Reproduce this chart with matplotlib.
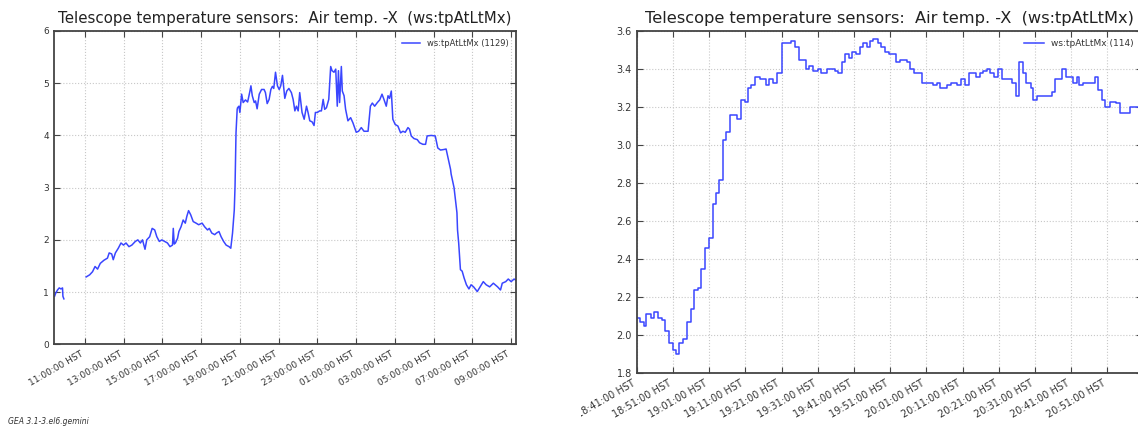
import matplotlib
matplotlib.use("Agg")
import matplotlib.pyplot as plt
from matplotlib.ticker import MultipleLocator, FuncFormatter
from matplotlib.patches import Rectangle
import numpy as np

# left panel: 24 h history, hours since midnight of day 1 (values > 24 = next day)
day_hours = [
    9.43, 9.49, 9.58, 9.67, 9.76, 9.84, 9.86, 9.91,
    11.06, 11.24, 11.39, 11.52, 11.65, 11.79, 11.98, 12.16, 12.25, 12.38, 12.46, 12.57,
    12.72, 12.86, 12.99, 13.12, 13.27, 13.42, 13.60, 13.73, 13.86, 13.97, 14.10, 14.19,
    14.34, 14.47, 14.60, 14.71, 14.84, 14.97, 15.11, 15.26, 15.39, 15.52, 15.56, 15.61,
    15.67, 15.78, 15.85, 15.96, 16.07, 16.18, 16.26, 16.35, 16.46, 16.59, 16.74, 16.87,
    17.05, 17.18, 17.33, 17.42, 17.55, 17.70, 17.79, 17.92, 18.03, 18.16, 18.29, 18.44,
    18.53, 18.62, 18.71, 18.75, 18.80, 18.86, 18.88, 18.95, 19.00, 19.09, 19.17, 19.29,
    19.40, 19.52, 19.57, 19.64, 19.74, 19.81, 19.89, 20.00, 20.12, 20.25, 20.32, 20.41,
    20.51, 20.60, 20.68, 20.75, 20.84, 20.94, 21.03, 21.11, 21.20, 21.32, 21.42, 21.53,
    21.66, 21.75, 21.84, 21.92, 22.01, 22.09, 22.21, 22.32, 22.44, 22.52, 22.61, 22.73,
    22.83, 22.90, 23.00, 23.12, 23.21, 23.30, 23.38, 23.47, 23.59, 23.69, 23.76, 23.86,
    23.95, 24.03, 24.09, 24.15, 24.24, 24.29, 24.38, 24.46, 24.58, 24.72, 24.84, 25.01,
    25.13, 25.27, 25.41, 25.62, 25.74, 25.84, 25.96, 26.10, 26.22, 26.34, 26.44, 26.56,
    26.65, 26.73, 26.82, 26.90, 27.02, 27.16, 27.30, 27.42, 27.54, 27.68, 27.76, 27.85,
    27.99, 28.16, 28.28, 28.45, 28.59, 28.67, 28.88, 29.09, 29.22, 29.36, 29.53, 29.65,
    29.77, 29.88, 29.91, 30.06, 30.21, 30.24, 30.30, 30.39, 30.48, 30.58, 30.70, 30.83,
    30.94, 31.07, 31.26, 31.44, 31.57, 31.72, 31.90, 32.09, 32.31, 32.46, 32.55, 32.73,
    32.86, 33.01, 33.16, 33.29,
]
day_temp = [
    0.92, 0.98, 1.04, 1.08, 1.06, 1.08, 0.92, 0.87,
    1.29, 1.33, 1.39, 1.49, 1.44, 1.55, 1.61, 1.65, 1.75, 1.73, 1.62, 1.75,
    1.84, 1.94, 1.90, 1.94, 1.87, 1.90, 1.97, 2.00, 1.94, 2.00, 1.82, 2.00,
    2.06, 2.22, 2.19, 2.06, 1.97, 2.00, 1.97, 1.94, 1.87, 1.90, 2.22, 1.92,
    1.94, 2.03, 2.16, 2.25, 2.38, 2.32, 2.45, 2.56, 2.48, 2.35, 2.32, 2.29,
    2.32, 2.25, 2.19, 2.22, 2.13, 2.10, 2.13, 2.16, 2.06, 1.97, 1.90, 1.87,
    1.84, 2.13, 2.57, 3.03, 4.05, 4.50, 4.53, 4.56, 4.44, 4.79, 4.63, 4.68,
    4.64, 4.85, 4.95, 4.76, 4.63, 4.66, 4.51, 4.79, 4.88, 4.88, 4.82, 4.61,
    4.69, 4.88, 4.94, 4.90, 5.21, 4.95, 4.88, 4.95, 5.15, 4.71, 4.85, 4.90,
    4.82, 4.69, 4.47, 4.56, 4.47, 4.82, 4.44, 4.31, 4.56, 4.44, 4.28, 4.26,
    4.19, 4.44, 4.44, 4.47, 4.47, 4.69, 4.50, 4.53, 4.69, 5.32, 5.24, 5.21,
    5.27, 4.56, 5.24, 4.63, 5.32, 4.85, 4.76, 4.50, 4.28, 4.34, 4.24, 4.06,
    4.08, 4.15, 4.08, 4.08, 4.56, 4.62, 4.56, 4.63, 4.68, 4.79, 4.69, 4.56,
    4.76, 4.71, 4.85, 4.31, 4.21, 4.18, 4.05, 4.08, 4.06, 4.15, 4.12, 3.99,
    3.94, 3.92, 3.86, 3.83, 3.83, 3.99, 4.00, 3.99, 3.76, 3.72, 3.73, 3.74,
    3.54, 3.35, 3.26, 3.00, 2.52, 2.19, 1.94, 1.43, 1.40, 1.27, 1.14, 1.06,
    1.14, 1.10, 1.01, 1.12, 1.20, 1.14, 1.10, 1.17, 1.10, 1.04, 1.17, 1.20,
    1.25, 1.20, 1.25, 1.22,
]
day_gap_after = 9.91  # no samples between ~09:55 and 11:00

# right panel: last two hours, minutes after 18:41, value held until next change
eve_minutes = [
    0, 1.0, 2.0, 2.7, 3.9, 4.9, 6.0, 7.1, 7.8, 8.9, 9.9, 10.9, 11.8, 12.9, 13.8, 14.9,
    15.8, 16.8, 17.8, 18.8, 19.9, 21.0, 21.9, 22.8, 23.8, 24.8, 25.8, 27.8, 28.8, 30.0,
    30.8, 31.7, 32.8, 34.1, 35.6, 36.6, 37.6, 38.8, 40.0, 42.7, 43.7, 44.8, 46.7, 47.7,
    48.8, 50.0, 50.9, 52.7, 54.7, 55.6, 56.6, 57.6, 58.6, 59.6, 60.6, 61.6, 62.6, 63.7,
    64.4, 65.3, 66.6, 67.6, 68.6, 69.6, 71.6, 72.6, 74.6, 75.5, 76.7, 78.9, 81.9, 82.9,
    83.7, 85.6, 86.8, 88.6, 89.6, 90.7, 91.8, 93.8, 94.8, 95.7, 96.7, 97.7, 98.7, 99.7,
    100.9, 103.7, 104.7, 105.6, 106.8, 107.6, 108.8, 109.6, 110.6, 114.6, 115.5, 117.5,
    118.5, 120.5, 121.5, 122.3, 123.3, 126.6, 127.4, 128.4, 129.4, 130.8, 132.4, 133.4,
    136.3, 140.0,
]
eve_temp = [
    2.09, 2.07, 2.05, 2.11, 2.09, 2.12, 2.09, 2.08, 2.02, 1.96, 1.92, 1.90, 1.96, 1.98, 2.07, 2.14,
    2.24, 2.25, 2.35, 2.46, 2.51, 2.69, 2.75, 2.82, 3.03, 3.07, 3.16, 3.14, 3.24, 3.23,
    3.30, 3.32, 3.36, 3.35, 3.32, 3.35, 3.33, 3.38, 3.54, 3.55, 3.52, 3.45, 3.40, 3.42,
    3.39, 3.40, 3.38, 3.40, 3.39, 3.38, 3.44, 3.48, 3.46, 3.49, 3.48, 3.52, 3.54, 3.52,
    3.55, 3.56, 3.54, 3.52, 3.49, 3.48, 3.44, 3.45, 3.44, 3.40, 3.38, 3.33, 3.32, 3.33,
    3.30, 3.32, 3.33, 3.32, 3.35, 3.32, 3.38, 3.36, 3.38, 3.39, 3.40, 3.38, 3.36, 3.40,
    3.35, 3.33, 3.26, 3.44, 3.38, 3.33, 3.30, 3.24, 3.26, 3.28, 3.35, 3.40,
    3.36, 3.33, 3.36, 3.32, 3.33, 3.36, 3.29, 3.24, 3.20, 3.23, 3.22, 3.17,
    3.20, 3.20,
]

title = "Telescope temperature sensors:  Air temp. -X  (ws:tpAtLtMx)"
W, H = 1138, 428
LINE = "#3a46ff"
INK = "#333333"


def fig_rect(x0, x1, top, bottom):
    # pixel box -> figure fraction
    return [x0 / W, 1 - bottom / H, (x1 - x0) / W, (bottom - top) / H]


def style(ax, fs):
    ax.grid(True, color="#c8c8c8", linestyle=":", linewidth=0.8)
    ax.set_axisbelow(True)
    for s in ax.spines.values():
        s.set_color("#444444")
        s.set_linewidth(1.3)
    ax.tick_params(direction="in", length=4, width=0.8, color="#444444",
                   top=True, right=True, labelsize=fs, labelcolor=INK)
    for lab in ax.get_xticklabels():
        lab.set_rotation(30)
        lab.set_ha("right")


def hour_fmt(v, pos):
    return "%02d:00:00 HST" % (int(round(v)) % 24)


def min_fmt(v, pos):
    t = 18 * 60 + 41 + int(round(v))
    return "%02d:%02d:00 HST" % ((t // 60) % 24, t % 60)


fig = plt.figure(figsize=(W / 100, H / 100), dpi=100)

# left: full day
ax1 = fig.add_axes(fig_rect(54, 516, 31, 344.3))
hrs = np.array(day_hours)
tmp = np.array(day_temp, dtype=float)
cut = np.searchsorted(hrs, day_gap_after, side="right")
hrs = np.insert(hrs, cut, np.nan)
tmp = np.insert(tmp, cut, np.nan)
ax1.plot(hrs, tmp, color=LINE, lw=1.1, label="ws:tpAtLtMx (1129)")
ax1.set_xlim(9.40, 33.26)
ax1.set_ylim(0, 6)
ax1.xaxis.set_major_locator(MultipleLocator(2, offset=1))
ax1.xaxis.set_major_formatter(FuncFormatter(hour_fmt))
ax1.yaxis.set_major_locator(MultipleLocator(1))
ax1.set_title(title, fontsize=10.8, color="#222222", pad=6)
style(ax1, 6.5)
ax1.legend(loc="upper right", frameon=False, fontsize=6, handlelength=2.2,
           labelcolor=INK)

# right: evening close-up (cropped at the right edge like the source screenshot)
ax2 = fig.add_axes(fig_rect(636.7, 1141.7, 31.3, 373.3))
ax2.plot(eve_minutes, eve_temp, color=LINE, lw=1.1, drawstyle="steps-post",
         label="ws:tpAtLtMx (114)")
ax2.set_xlim(0, 139.5)
ax2.set_ylim(1.8, 3.6)
ax2.xaxis.set_major_locator(MultipleLocator(10))
ax2.xaxis.set_major_formatter(FuncFormatter(min_fmt))
ax2.yaxis.set_major_locator(MultipleLocator(0.2))
ax2.yaxis.set_major_formatter(FuncFormatter(lambda v, p: "%.1f" % v))
ax2.set_title(title, fontsize=11.7, color="#222222", pad=6)
style(ax2, 7)
ax2.legend(loc="upper right", frameon=False, fontsize=6.5, handlelength=2.2,
           labelcolor=INK)

# the right screenshot starts at x~581, hiding the start of the first label
fig.add_artist(Rectangle((536 / W, 0), 45 / W, 50 / H, transform=fig.transFigure,
                         facecolor="white", edgecolor="none", zorder=10))

fig.text(8 / W, 1 - 422 / H, "GEA 3.1-3.el6.gemini", fontsize=5.5,
         style="italic", color=INK, va="center")

fig.savefig("out.png", dpi=100)
